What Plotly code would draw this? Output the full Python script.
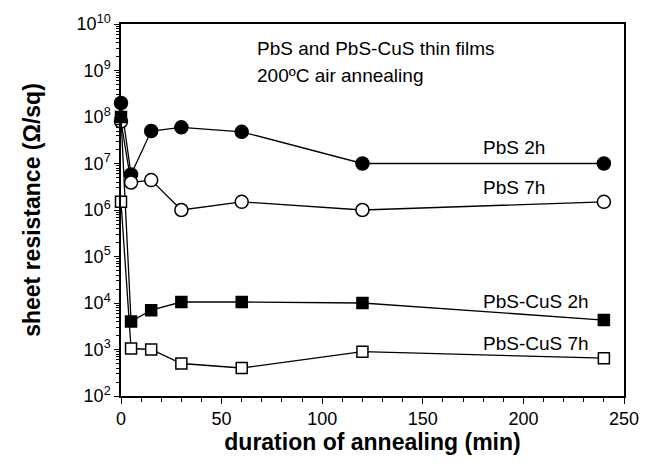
import plotly.graph_objects as go

duration = [0, 5, 15, 30, 60, 120, 240]
pbs_2h = [2.0e8, 5.8e6, 5.0e7, 6.0e7, 4.8e7, 1.0e7, 1.0e7]
pbs_7h = [8.0e7, 3.9e6, 4.4e6, 1.0e6, 1.5e6, 1.0e6, 1.5e6]
pbscus_2h = [1.0e8, 4.0e3, 7.0e3, 1.05e4, 1.05e4, 1.0e4, 4.3e3]
pbscus_7h = [1.5e6, 1.05e3, 1.0e3, 5.0e2, 4.0e2, 9.0e2, 6.5e2]

series_names = ["PbS 2h", "PbS 7h", "PbS-CuS 2h", "PbS-CuS 7h"]
label_x = [179, 179, 179, 179]
label_log_y = [7.34, 6.49, 4.04, 3.13]

ytick_vals = [1e2, 1e3, 1e4, 1e5, 1e6, 1e7, 1e8, 1e9, 1e10]
ytick_text = ["10<sup>%d</sup>" % p for p in range(2, 11)]
xtick_vals = [0, 50, 100, 150, 200, 250]

FONT = "Liberation Sans, Arial, sans-serif"

fig = go.Figure()
styles = [
    (pbs_2h, "circle", "black", 13),
    (pbs_7h, "circle", "white", 13),
    (pbscus_2h, "square", "black", 11),
    (pbscus_7h, "square", "white", 11),
]
for name, (vals, sym, col, sz) in zip(series_names, styles):
    fig.add_trace(go.Scatter(
        x=duration, y=vals, mode="lines+markers", name=name,
        line=dict(color="black", width=1.3),
        marker=dict(symbol=sym, size=sz, color=col, line=dict(color="black", width=1.5)),
        cliponaxis=False, showlegend=False,
    ))

for name, lx, ly in zip(series_names, label_x, label_log_y):
    fig.add_annotation(x=lx, y=ly, xref="x", yref="y", text=name, showarrow=False,
                       font=dict(family=FONT, size=19, color="black"),
                       xanchor="left", yanchor="middle")

fig.add_annotation(xref="paper", yref="paper", x=0.266, y=0.9335, xanchor="left", yanchor="middle",
                   text="PbS and PbS-CuS thin films", showarrow=False,
                   font=dict(family=FONT, size=19, color="black"))
fig.add_annotation(xref="paper", yref="paper", x=0.266, y=0.862, xanchor="left", yanchor="middle",
                   text="200ºC air annealing", showarrow=False,
                   font=dict(family=FONT, size=19, color="black"))

fig.update_layout(
    width=651, height=465,
    margin=dict(l=121, r=19, t=20, b=69),
    paper_bgcolor="white", plot_bgcolor="white",
    font=dict(family=FONT, color="black"),
    xaxis=dict(
        range=[0, 250], tickvals=xtick_vals, ticks="outside", ticklen=6, tickwidth=1.3,
        tickcolor="black", showline=True, linecolor="black", linewidth=1.5, mirror=True,
        showgrid=False, zeroline=False, tickfont=dict(size=18, family=FONT),
        minor=dict(dtick=10, ticks="outside", ticklen=4, tickwidth=1, tickcolor="black", showgrid=False),
        title=dict(text="<b>duration of annealing (min)</b>", font=dict(size=23, family=FONT), standoff=6),
    ),
    yaxis=dict(
        type="log", range=[2, 10], tickvals=ytick_vals, ticktext=ytick_text, ticks="outside",
        ticklen=5, tickwidth=1.3, tickcolor="black", showline=True, linecolor="black",
        linewidth=1.5, mirror=True, showgrid=False, zeroline=False,
        tickfont=dict(size=18, family=FONT),
        minor=dict(dtick="D1", ticks="outside", ticklen=3, tickwidth=1, tickcolor="black", showgrid=False),
        title=dict(text="<b>sheet resistance (Ω/sq)</b>", font=dict(size=23, family=FONT), standoff=30),
    ),
)

fig.write_html("out.html")
